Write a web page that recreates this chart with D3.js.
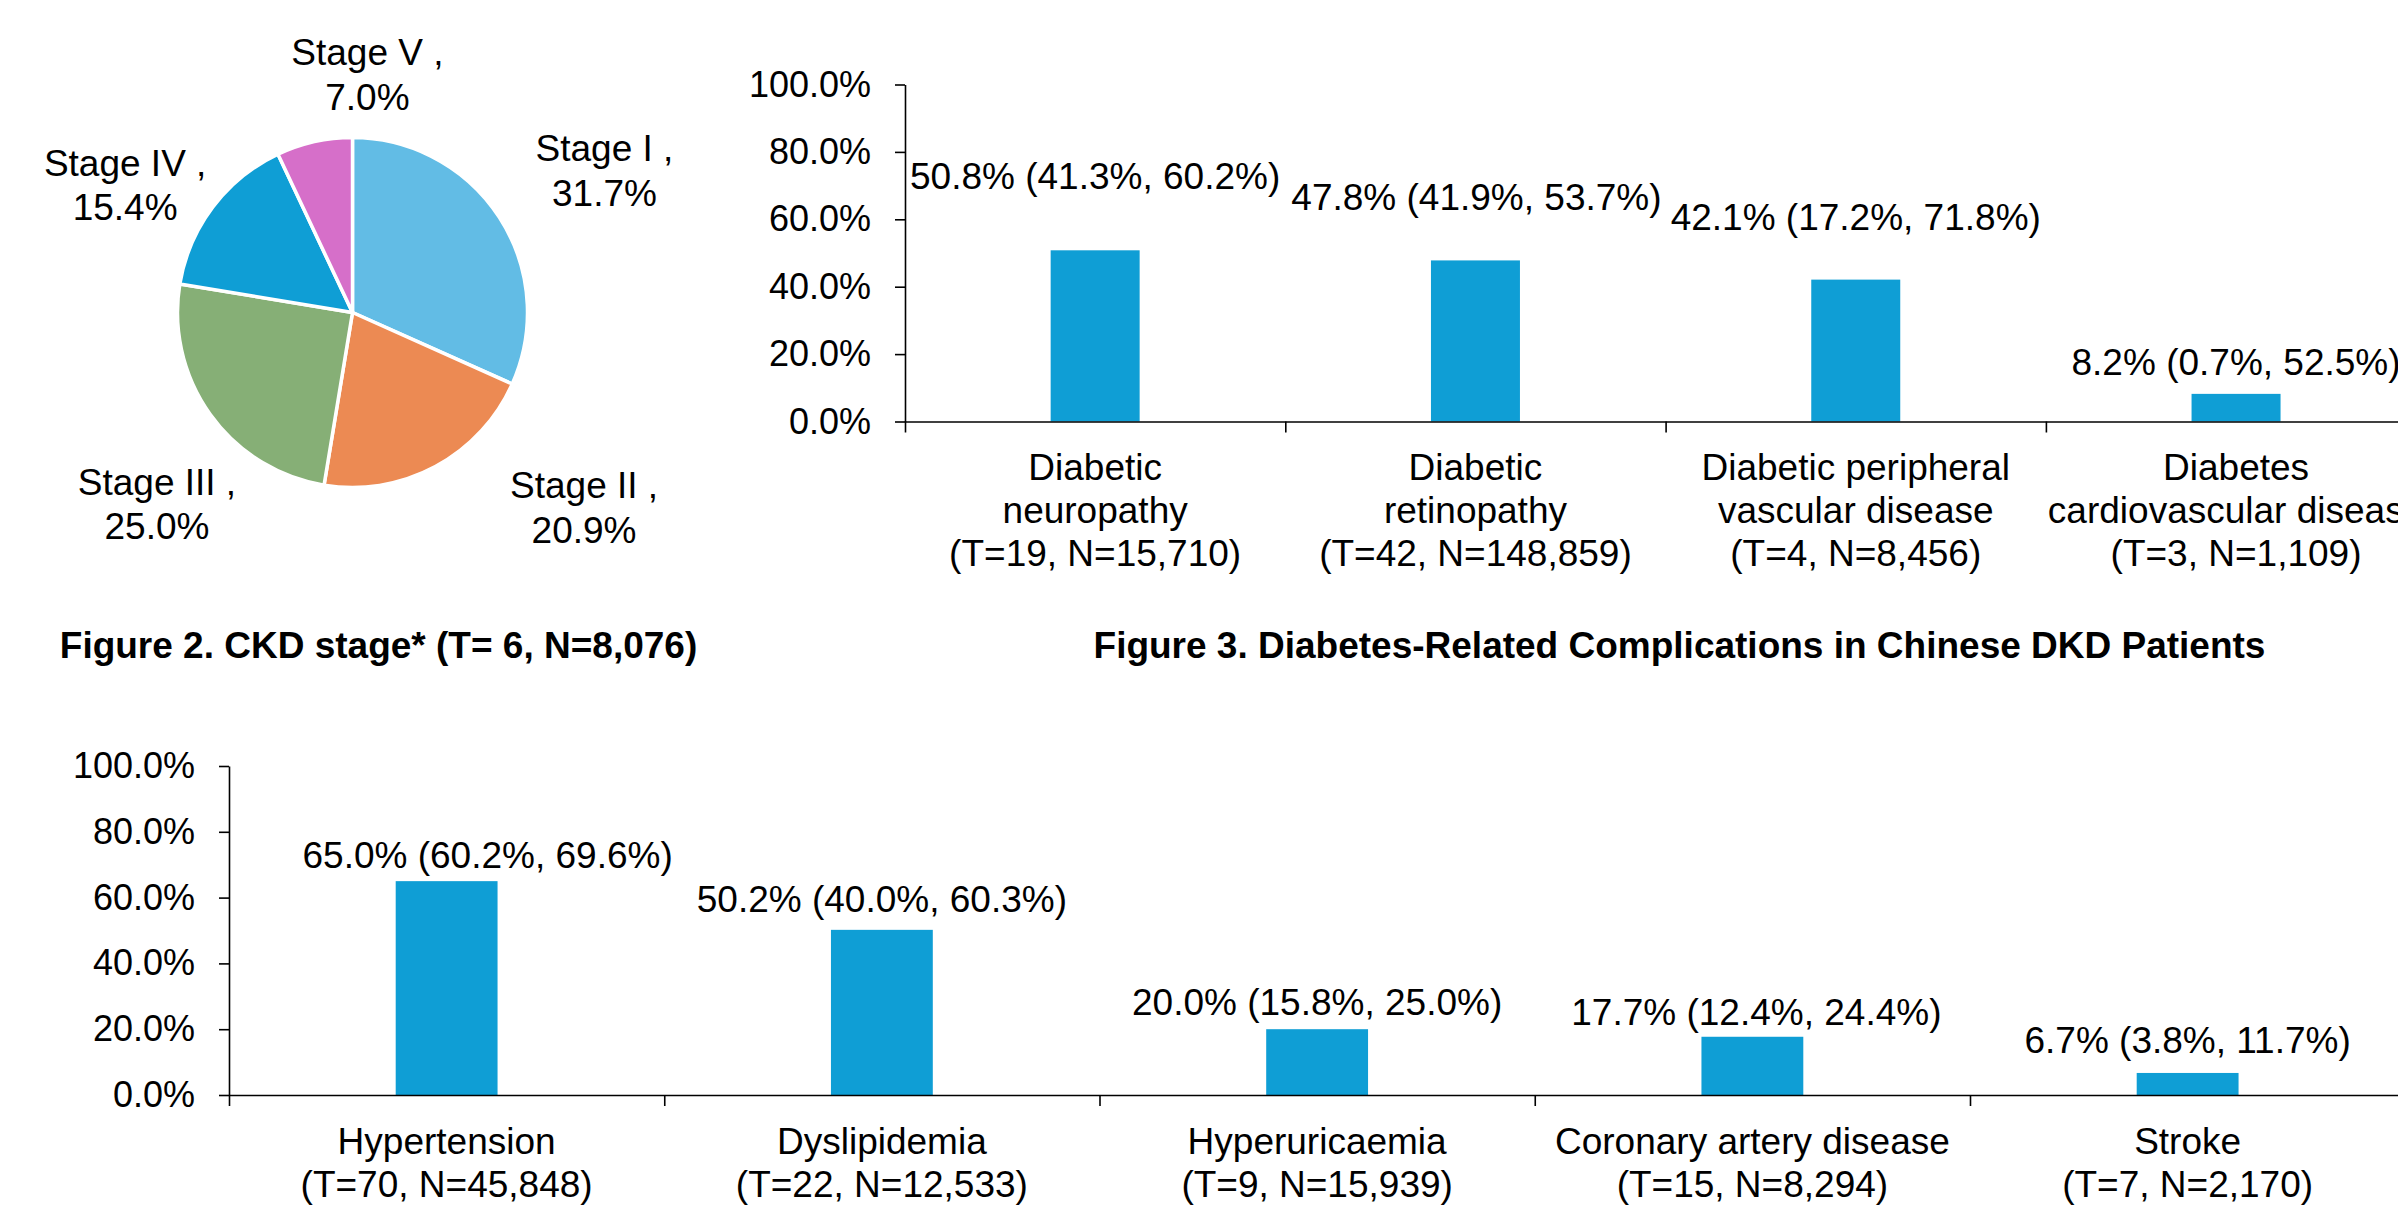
<!DOCTYPE html>
<html>
<head>
<meta charset="utf-8">
<script src="https://cdn.jsdelivr.net/npm/d3@7"></script>
<style>
  html, body { margin: 0; padding: 0; background: #fff; overflow: hidden; }
  svg { display: block; }
  text { font-family: "Liberation Sans", Arial, Helvetica, sans-serif; fill: #000; }
</style>
</head>
<body>
<svg id="chart" width="2398" height="1211"></svg>
<script>
// ---- CKD stage distribution (pie) ----
const stageNames  = ["Stage I", "Stage II", "Stage III", "Stage IV", "Stage V"];
const stageShares = [31.7, 20.9, 25.0, 15.4, 7.0];
const stageColors = ["#62bce5", "#ec8a53", "#86af76", "#0f9ed5", "#d66fc9"];

// ---- Diabetes-related complications ----
const complicationLabels = [
  ["Diabetic", "neuropathy", "(T=19, N=15,710)"],
  ["Diabetic", "retinopathy", "(T=42, N=148,859)"],
  ["Diabetic peripheral", "vascular disease", "(T=4, N=8,456)"],
  ["Diabetes", "cardiovascular disease", "(T=3, N=1,109)"]
];
const complicationRates = [50.8, 47.8, 42.1, 8.2];
const complicationLow   = [41.3, 41.9, 17.2, 0.7];
const complicationHigh  = [60.2, 53.7, 71.8, 52.5];

// ---- Comorbidities ----
const comorbidityLabels = [
  ["Hypertension", "(T=70, N=45,848)"],
  ["Dyslipidemia", "(T=22, N=12,533)"],
  ["Hyperuricaemia", "(T=9, N=15,939)"],
  ["Coronary artery disease", "(T=15, N=8,294)"],
  ["Stroke", "(T=7, N=2,170)"]
];
const comorbidityRates = [65.0, 50.2, 20.0, 17.7, 6.7];
const comorbidityLow   = [60.2, 40.0, 15.8, 12.4, 3.8];
const comorbidityHigh  = [69.6, 60.3, 25.0, 24.4, 11.7];

const percentTicks = [0, 20, 40, 60, 80, 100];

// ---- layout ----
const BAR_COLOR = "#0f9ed5";
const FONT = 37;
const pieLayout = { cx: 352.5, cy: 312.5, r: 175, labelR: 280 };
const pieLabelNudge = [[17, 23], [99, -39], [32, 41], [-4, 54], [76, 48]];

const topChart = {
  x0: 905, band: 380.3, yBase: 421.5, yTop: 84.5,
  labelGap: [61, 50, 50, 19], labelDx: [0, 1, 0, 0]
};
const bottomChart = {
  x0: 229, band: 435.25, yBase: 1095, yTop: 766,
  labelGap: [13, 18, 14, 12, 20], labelDx: [41, 0, 0, 4, 0]
};

const svg = d3.select("#chart");
const fmt = v => v.toFixed(1) + "%";

// ---------- Pie ----------
const pieG = svg.append("g").attr("transform", `translate(${pieLayout.cx},${pieLayout.cy})`);
const slices = d3.pie().sort(null).value(d => d)(stageShares);
const arc = d3.arc().innerRadius(0).outerRadius(pieLayout.r);
const labelArc = d3.arc().innerRadius(pieLayout.labelR).outerRadius(pieLayout.labelR);

pieG.selectAll("path.slice")
  .data(slices)
  .join("path")
  .attr("class", "slice")
  .attr("d", arc)
  .attr("fill", (d, i) => stageColors[i])
  .attr("stroke", "#fff")
  .attr("stroke-width", 3.5)
  .attr("stroke-linejoin", "round");

pieG.selectAll("text.stage")
  .data(slices)
  .join("text")
  .attr("class", "stage")
  .attr("text-anchor", "middle")
  .attr("font-size", FONT)
  .each(function (d, i) {
    const [cx, cy] = labelArc.centroid(d);
    const x = cx + pieLabelNudge[i][0];
    const y = cy + pieLabelNudge[i][1];
    const t = d3.select(this);
    t.append("tspan").attr("x", x).attr("y", y - 22).text(stageNames[i] + " ,");
    t.append("tspan").attr("x", x).attr("y", y + 22.5).text(fmt(stageShares[i]));
  });

svg.append("text")
  .attr("x", 378.5).attr("y", 658)
  .attr("text-anchor", "middle")
  .attr("font-size", FONT).attr("font-weight", "bold")
  .text("Figure 2. CKD stage* (T= 6, N=8,076)");

// ---------- Bar chart helper ----------
function barChart(cfg, labels, rates, low, high) {
  const n = rates.length;
  const g = svg.append("g");
  const x = d3.scaleBand().domain(d3.range(n))
    .range([cfg.x0, cfg.x0 + cfg.band * n]).paddingInner(0).paddingOuter(0);
  const y = d3.scaleLinear().domain([0, 100]).range([cfg.yBase, cfg.yTop]);
  const edges = d3.scaleLinear().domain([0, n]).range([cfg.x0, cfg.x0 + cfg.band * n]);
  const barW = x.bandwidth() * 0.234;

  // bars
  g.selectAll("rect.bar")
    .data(rates)
    .join("rect")
    .attr("class", "bar")
    .attr("x", (d, i) => x(i) + x.bandwidth() / 2 - barW / 2)
    .attr("y", d => y(d))
    .attr("width", barW)
    .attr("height", d => y(0) - y(d))
    .attr("fill", BAR_COLOR);

  // y axis
  const yAxis = g.append("g")
    .attr("transform", `translate(${cfg.x0},0)`)
    .call(d3.axisLeft(y).tickValues(percentTicks).tickFormat(d => d.toFixed(1) + "%")
      .tickSize(10).tickSizeOuter(0).tickPadding(24));
  yAxis.selectAll("text").attr("font-size", 36).attr("font-family", null);
  yAxis.selectAll("path, line").attr("stroke", "#000").attr("stroke-width", 1.6);

  // x axis with category separators
  const xAxis = g.append("g")
    .attr("transform", `translate(0,${cfg.yBase})`)
    .call(d3.axisBottom(edges).tickValues(d3.range(n + 1)).tickFormat("")
      .tickSize(11).tickSizeOuter(0));
  xAxis.selectAll("path, line").attr("stroke", "#000").attr("stroke-width", 1.6);

  // category labels
  g.selectAll("text.cat")
    .data(labels)
    .join("text")
    .attr("class", "cat")
    .attr("text-anchor", "middle")
    .attr("font-size", FONT)
    .each(function (lines, i) {
      const cx = x(i) + x.bandwidth() / 2;
      const t = d3.select(this);
      lines.forEach((line, k) => {
        t.append("tspan").attr("x", cx).attr("y", cfg.yBase + 58.5 + k * 43).text(line);
      });
    });

  // value labels
  g.selectAll("text.val")
    .data(rates)
    .join("text")
    .attr("class", "val")
    .attr("text-anchor", "middle")
    .attr("font-size", FONT)
    .attr("x", (d, i) => x(i) + x.bandwidth() / 2 + cfg.labelDx[i])
    .attr("y", (d, i) => y(d) - cfg.labelGap[i])
    .text((d, i) => `${fmt(d)} (${fmt(low[i])}, ${fmt(high[i])})`);
}

barChart(topChart, complicationLabels, complicationRates, complicationLow, complicationHigh);

svg.append("text")
  .attr("x", 1679.5).attr("y", 658)
  .attr("text-anchor", "middle")
  .attr("font-size", FONT).attr("font-weight", "bold")
  .text("Figure 3. Diabetes-Related Complications in Chinese DKD Patients");

barChart(bottomChart, comorbidityLabels, comorbidityRates, comorbidityLow, comorbidityHigh);
</script>
</body>
</html>
